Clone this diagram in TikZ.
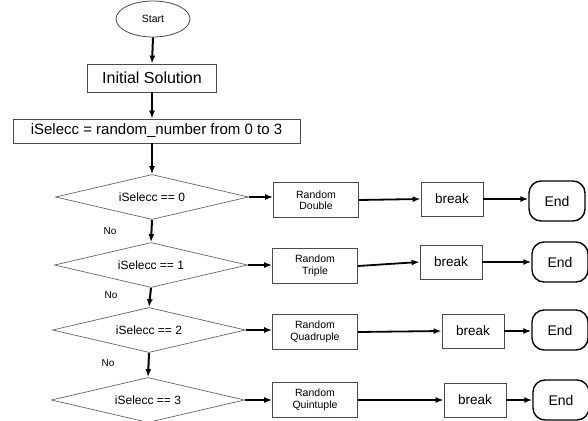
\documentclass[tikz,border=0pt]{standalone}
\usepackage{fontspec}
\setmainfont{Liberation Sans}
\usetikzlibrary{shapes.geometric,arrows.meta}
\begin{document}
\begin{tikzpicture}[x=1pt,y=-1pt,
  box/.style={draw=black!70, line width=0.8pt, inner sep=0pt},
  dia/.style={diamond, aspect=4.3, draw=black!60, line width=0.7pt, minimum width=193pt, minimum height=45pt, inner sep=0pt, font=\fontsize{12}{14}\selectfont},
  rnd/.style={box, minimum width=85pt, minimum height=35pt, align=center, font=\fontsize{10.5}{11.5}\selectfont},
  brk/.style={box, minimum width=62pt, minimum height=34pt, font=\fontsize{13.5}{15}\selectfont},
  endn/.style={draw, rounded corners=12pt, line width=1.4pt, minimum width=56pt, minimum height=40pt, font=\fontsize{14}{16}\selectfont},
  arr/.style={-{Latex[length=8pt,width=6pt]}, line width=2pt},
  tarr/.style={-{Latex[length=8pt,width=6pt]}, line width=1.8pt},
  nolab/.style={font=\fontsize{10}{12}\selectfont}]
\useasboundingbox (0,0) rectangle (588,420);
\node[ellipse, draw=black!70, line width=0.8pt, minimum width=74pt, minimum height=36pt, inner sep=0pt, font=\fontsize{10.5}{12}\selectfont] (start) at (153,19) {Start};
\node[box, minimum width=129pt, minimum height=28pt, font=\fontsize{16}{19}\selectfont] (init) at (152,78) {Initial Solution};
\node[box, minimum width=287pt, minimum height=24pt, font=\fontsize{15}{18}\selectfont] (sel) at (156.5,131) {iSelecc = random\_number from 0 to 3};
\node[dia] (d0) at (152,197) {iSelecc == 0};
\node[dia] (d1) at (151,265) {iSelecc == 1};
\node[dia] (d2) at (149,330) {iSelecc == 2};
\node[dia] (d3) at (148,400) {iSelecc == 3};
\node[rnd] (r0) at (316,200) {Random\\Double};
\node[rnd] (r1) at (315,266) {Random\\Triple};
\node[rnd] (r2) at (315,332) {Random\\Quadruple};
\node[rnd] (r3) at (315,400) {Random\\Quintuple};
\node[brk] (b0) at (452,199) {break};
\node[brk] (b1) at (451,262) {break};
\node[brk] (b2) at (473,331) {break};
\node[brk] (b3) at (475,400) {break};
\node[endn] (e0) at (557,201) {End};
\node[endn] (e1) at (560,262) {End};
\node[endn] (e2) at (560,330) {End};
\node[endn] (e3) at (561,400) {End};
\node[nolab] (n0) at (110,231) {No};
\node[nolab] (n1) at (111,295) {No};
\node[nolab] (n2) at (108,363) {No};
\draw[arr] (start.south) -- (init.north);
\draw[arr] (init.south) -- (init.south |- sel.north);
\draw[arr] (init.south |- sel.south) -- (d0.north);
\draw[arr] (d0.south) -- (d1.north);
\draw[arr] (d1.south) -- (d2.north);
\draw[arr] (d2.south) -- (d3.north);
\draw[arr] (d0.east) -- (d0.east -| r0.west);
\draw[arr] (d1.east) -- (d1.east -| r1.west);
\draw[arr] (d2.east) -- (d2.east -| r2.west);
\draw[arr] (d3.east) -- (d3.east -| r3.west);
\draw[tarr] (r0.east) -- (b0.west);
\draw[tarr] (r1.east) -- (b1.west);
\draw[tarr] (r2.east) -- (b2.west);
\draw[tarr] (r3.east) -- (b3.west);
\draw[arr] (b0.east) -- (b0.east -| e0.west);
\draw[arr] (b1.east) -- (b1.east -| e1.west);
\draw[arr] (b2.east) -- (b2.east -| e2.west);
\draw[arr] (b3.east) -- (b3.east -| e3.west);
\end{tikzpicture}
\end{document}
